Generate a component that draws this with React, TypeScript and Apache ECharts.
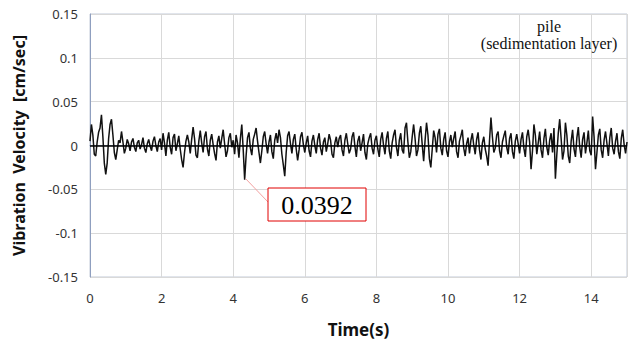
import React, { useEffect, useRef } from "react";
import * as echarts from "echarts";

// sampling step of the record, seconds
const SAMPLE_DT = 0.04;

// vibration velocity, in 1e-3 cm/sec, one row per second of record
const VELOCITY_MILLI: number[] = [
  5, 24, 12, -10, -12, 4, 15, 20, 35, 10, -20, -33, -20, 8, 24, 30, 12, -8, -16, -5, 6, 3, 16, 4, -9,
  -3, 7, 2, -6, 4, 8, -2, -7, 3, 6, -4, 1, 9, -3, -8, 2, 7, -1, -6, 5, 10, 0, -7, 4, 8,
  -5, 14, 3, -12, 6, 15, -2, -10, 9, 13, -6, 2, 11, -4, -16, -25, -8, 5, 12, 4, -9, 7, 21, 8, -11,
  -14, 5, 17, 3, -8, 10, 16, -4, -12, 6, 13, 1, -9, -17, 4, 11, -3, 8, 18, 2, -13, -6, 9, 14, -2,
  6, -10, 12, 3, -14, 8, 24, -5, -39, -12, 9, 15, -3, -11, 7, 13, 20, 5, -8, -20, -6, 10, 16, 2, -9,
  4, 12, -7, -15, 6, 14, 3, 18, 9, -10, -22, -35, -8, 11, 16, 2, -9, 7, 13, -4, -17, -5, 10, 15, 1,
  -8, 3, 11, -6, -13, 5, 12, 0, -9, 7, 14, -3, -11, 4, 9, -7, 2, 13, 6, -10, -14, 3, 10, -2, 8,
  12, -5, -12, 6, 14, 2, -9, -4, 10, 15, -1, -13, 5, 11, -6, 3, 13, -8, -16, 2, 9, 14, -3, -10, 6,
  11, -4, -13, 7, 15, 0, -10, 8, 16, -6, -15, 3, 12, 18, -2, -12, 6, 14, -5, -9, 20, 26, 4, -14, -7,
  10, 24, 8, -12, -5, 14, 22, 1, -18, 6, 26, 12, -15, -25, -4, 17, 9, -8, 13, 19, -3, -11, 7, 15, -6,
  -13, 4, 12, -2, 8, 16, -7, -14, 5, 11, 18, -3, -12, 2, 9, -9, 6, 14, 0, -10, 7, 15, -5, -16, 3,
  10, -4, -12, -23, 6, 32, 10, -8, -3, 12, 16, -6, -14, 4, 11, 17, -2, -10, 8, 14, -7, -15, 5, 13, 2,
  -9, 7, 15, -3, -13, 10, 18, 4, -27, -6, 24, 12, -10, 3, 16, -5, -14, 8, 19, -2, -11, 6, 14, -8, 20,
  -38, -10, 14, 30, 8, -16, -6, 26, 12, -12, -20, 5, 18, -4, -13, 9, 21, -2, -14, 7, 15, -9, 3, 17, -6,
  -11, 33, 10, -27, -8, 12, 19, -5, -14, 6, 16, 2, -12, 9, 20, -3, -10, 5, 14, -7, -15, 8, 18, 1, -9,
  4,
];

const Y_TICKS = [-0.15, -0.1, -0.05, 0, 0.05, 0.1, 0.15];
const X_TICKS = [0, 2, 4, 6, 8, 10, 12, 14];

const PEAK_LABEL = "0.0392";
const PEAK_TIME = 4.32;
const PEAK_VALUE = -0.039;
const LEGEND_LINES = ["pile", "(sedimentation layer)"];

export default function App() {
  const ref = useRef<HTMLDivElement>(null);

  useEffect(() => {
    if (!ref.current) return;
    const chart = echarts.init(ref.current, null, { renderer: "svg" });
    const data = VELOCITY_MILLI.map((v, i) => [+(i * SAMPLE_DT).toFixed(2), v / 1000]);
    const sans = "'Noto Sans', 'Liberation Sans', sans-serif";
    const serif = "'Liberation Serif', 'DejaVu Serif', serif";

    chart.setOption({
      animation: false,
      backgroundColor: "#ffffff",
      grid: {
        left: 90,
        right: 13,
        top: 14,
        bottom: 75,
        show: true,
        borderColor: "#c3cad8",
        borderWidth: 1,
      },
      xAxis: {
        type: "value",
        min: 0,
        max: 15,
        interval: 2,
        name: "Time(s)",
        nameLocation: "middle",
        nameGap: 44,
        nameTextStyle: { fontFamily: sans, fontWeight: "bold", fontSize: 17, color: "#111" },
        axisLine: { show: true, lineStyle: { color: "#8f9fbf", width: 1 } },
        axisTick: { show: false },
        axisLabel: {
          showMaxLabel: false,
          margin: 14,
          fontFamily: sans,
          fontSize: 13,
          color: "#333",
          formatter: (v: number) => (X_TICKS.includes(v) ? String(v) : ""),
        },
        splitLine: { show: true, lineStyle: { color: "#d9d9d9", width: 1 } },
      },
      yAxis: {
        type: "value",
        min: -0.15,
        max: 0.15,
        interval: 0.05,
        name: "Vibration  Velocity  [cm/sec]",
        nameLocation: "middle",
        nameGap: 63,
        nameTextStyle: { fontFamily: sans, fontWeight: "bold", fontSize: 16, color: "#111" },
        axisLine: { show: true, lineStyle: { color: "#8f9fbf", width: 1 } },
        axisTick: { show: false },
        axisLabel: {
          margin: 12,
          fontFamily: sans,
          fontSize: 13,
          color: "#333",
          formatter: (v: number) => {
            const t = Y_TICKS.find((y) => Math.abs(y - v) < 1e-9);
            return t === undefined ? "" : String(t);
          },
        },
        splitLine: { show: true, lineStyle: { color: "#d9d9d9", width: 1 } },
      },
      series: [
        {
          type: "line",
          data,
          showSymbol: false,
          symbol: "none",
          lineStyle: { color: "#111", width: 1.5 },
          silent: true,
          markLine: {
            silent: true,
            symbol: "none",
            label: { show: false },
            lineStyle: { color: "#000", width: 1.5, type: "solid" },
            data: [{ yAxis: 0 }],
          },
        },
      ],
    });

    const p = chart.convertToPixel({ gridIndex: 0 }, [PEAK_TIME, PEAK_VALUE]) as number[];
    const boxX = 268;
    const boxY = 188;
    chart.setOption({
      graphic: [
        {
          type: "line",
          shape: { x1: p[0] + 1, y1: p[1] - 1, x2: boxX, y2: boxY + 14 },
          style: { stroke: "#f2a0a0", lineWidth: 1 },
          z: 100,
        },
        {
          type: "rect",
          shape: { x: boxX, y: boxY, width: 98, height: 33 },
          style: { fill: "#fff", stroke: "#e00000", lineWidth: 1 },
          z: 100,
        },
        {
          type: "text",
          x: boxX + 49,
          y: boxY + 17,
          style: {
            text: PEAK_LABEL,
            fill: "#000",
            font: `26px ${serif}`,
            align: "center",
            verticalAlign: "middle",
          },
          z: 101,
        },
        {
          type: "text",
          x: 549,
          y: 26,
          style: {
            text: LEGEND_LINES[0],
            fill: "#111",
            font: `16px ${serif}`,
            align: "center",
            verticalAlign: "middle",
          },
          z: 101,
        },
        {
          type: "text",
          x: 549,
          y: 43,
          style: {
            text: LEGEND_LINES[1],
            fill: "#111",
            font: `16px ${serif}`,
            align: "center",
            verticalAlign: "middle",
          },
          z: 101,
        },
      ],
    });

    return () => chart.dispose();
  }, []);

  return <div ref={ref} style={{ width: 640, height: 352, position: "absolute", left: 0, top: 0 }} />;
}
